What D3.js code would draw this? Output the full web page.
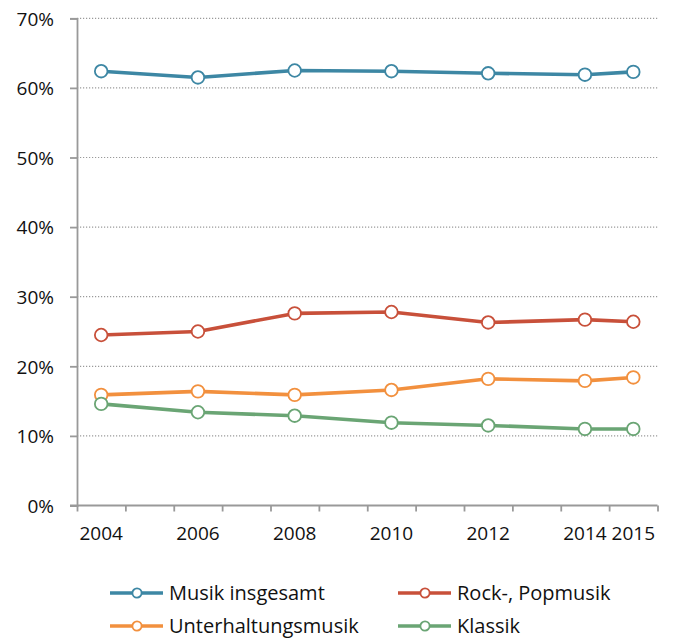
<!DOCTYPE html>
<html>
<head>
<meta charset="utf-8">
<script src="https://cdn.jsdelivr.net/npm/d3@7"></script>
<style>
  body { margin: 0; background: #fff; }
  text { font-family: 'Open Sans', sans-serif; fill: #111; }
</style>
</head>
<body>
<div class="container"></div>
<script>
const width = 675;
const height = 638;

// dados
const years = [2004, 2006, 2008, 2010, 2012, 2014, 2015];
const yearLabels = ['2004', '2006', '2008', '2010', '2012', '2014', '2015'];
const yTicks = [0, 0.1, 0.2, 0.3, 0.4, 0.5, 0.6, 0.7];
const seriesNames = ['Musik insgesamt', 'Rock-, Popmusik', 'Unterhaltungsmusik', 'Klassik'];
const seriesColors = ['#3d87a4', '#c8503a', '#f2903e', '#6aa574'];
const musikInsgesamt = [0.624, 0.615, 0.625, 0.624, 0.621, 0.619, 0.623];
const rockPop = [0.245, 0.250, 0.276, 0.278, 0.263, 0.267, 0.264];
const unterhaltung = [0.159, 0.164, 0.159, 0.166, 0.182, 0.179, 0.184];
const klassik = [0.146, 0.134, 0.129, 0.119, 0.115, 0.110, 0.110];
const seriesValues = [musikInsgesamt, rockPop, unterhaltung, klassik];

const svg = d3.select('.container')
  .append('svg')
  .attr('width', width)
  .attr('height', height);

// escalas
const x = d3.scaleLinear().domain([2004, 2016]).range([77, 657.5]);
const xc = yr => x(yr + 0.5);
const y = d3.scaleLinear().domain([0, 0.7]).range([505.5, 18.3]);

// linhas de grade pontilhadas
svg.append('g')
  .selectAll('line')
  .data(yTicks.slice(1))
  .enter()
  .append('line')
  .attr('x1', x(2004))
  .attr('x2', x(2016))
  .attr('y1', d => y(d))
  .attr('y2', d => y(d))
  .attr('stroke', '#9a9a9a')
  .attr('stroke-width', 1.2)
  .attr('stroke-dasharray', '1.2,1.8');

// eixo y
const yAxis = svg.append('g')
  .attr('transform', `translate(${x(2004)},0)`)
  .call(d3.axisLeft(y).tickValues(yTicks).tickSize(7).tickFormat(d3.format('.0%')));
yAxis.select('.domain').attr('stroke', '#999').attr('stroke-width', 1.8);
yAxis.selectAll('.tick line').attr('stroke', '#999').attr('stroke-width', 1.8);
yAxis.selectAll('.tick text')
  .attr('x', -23)
  .attr('dy', '0.36em')
  .attr('font-size', 19)
  .attr('font-family', "'Open Sans', sans-serif")
  .attr('fill', '#111');

// eixo x (marcas nas divisas dos anos)
const xAxis = svg.append('g')
  .attr('transform', `translate(0,${y(0)})`)
  .call(d3.axisBottom(x).tickValues(d3.range(2004, 2017)).tickSize(6).tickSizeOuter(0).tickFormat(''));
xAxis.select('.domain').attr('stroke', '#999').attr('stroke-width', 1.8).attr('d', `M${x(2004) - 7},0H${x(2016)}`);
xAxis.selectAll('.tick line').attr('stroke', '#999').attr('stroke-width', 1.8);

svg.append('g')
  .selectAll('text')
  .data(years)
  .enter()
  .append('text')
  .attr('x', d => xc(d))
  .attr('y', 540)
  .attr('text-anchor', 'middle')
  .attr('font-size', 19)
  .text((d, i) => yearLabels[i]);

// séries
const line = d3.line()
  .x((d, i) => xc(years[i]))
  .y(d => y(d));

seriesValues.forEach((vals, s) => {
  const g = svg.append('g');
  g.append('path')
    .datum(vals)
    .attr('d', line)
    .attr('fill', 'none')
    .attr('stroke', seriesColors[s])
    .attr('stroke-width', 3.6)
    .attr('stroke-linejoin', 'round');
  g.selectAll('circle')
    .data(vals)
    .enter()
    .append('circle')
    .attr('cx', (d, i) => xc(years[i]))
    .attr('cy', d => y(d))
    .attr('r', 6.3)
    .attr('fill', '#fff')
    .attr('stroke', seriesColors[s])
    .attr('stroke-width', 1.8);
});

// legenda
const legX = [110, 398];
const legY = [593, 626];
seriesNames.forEach((name, s) => {
  const lg = svg.append('g')
    .attr('transform', `translate(${legX[s % 2]},${legY[Math.floor(s / 2)]})`);
  lg.append('line')
    .attr('x1', 0)
    .attr('x2', 53)
    .attr('stroke', seriesColors[s])
    .attr('stroke-width', 3.6);
  lg.append('circle')
    .attr('cx', 27)
    .attr('r', 4.6)
    .attr('fill', '#fff')
    .attr('stroke', seriesColors[s])
    .attr('stroke-width', 1.8);
  lg.append('text')
    .attr('x', 59)
    .attr('dy', '0.36em')
    .attr('font-size', 20)
    .text(name);
});
</script>
</body>
</html>
